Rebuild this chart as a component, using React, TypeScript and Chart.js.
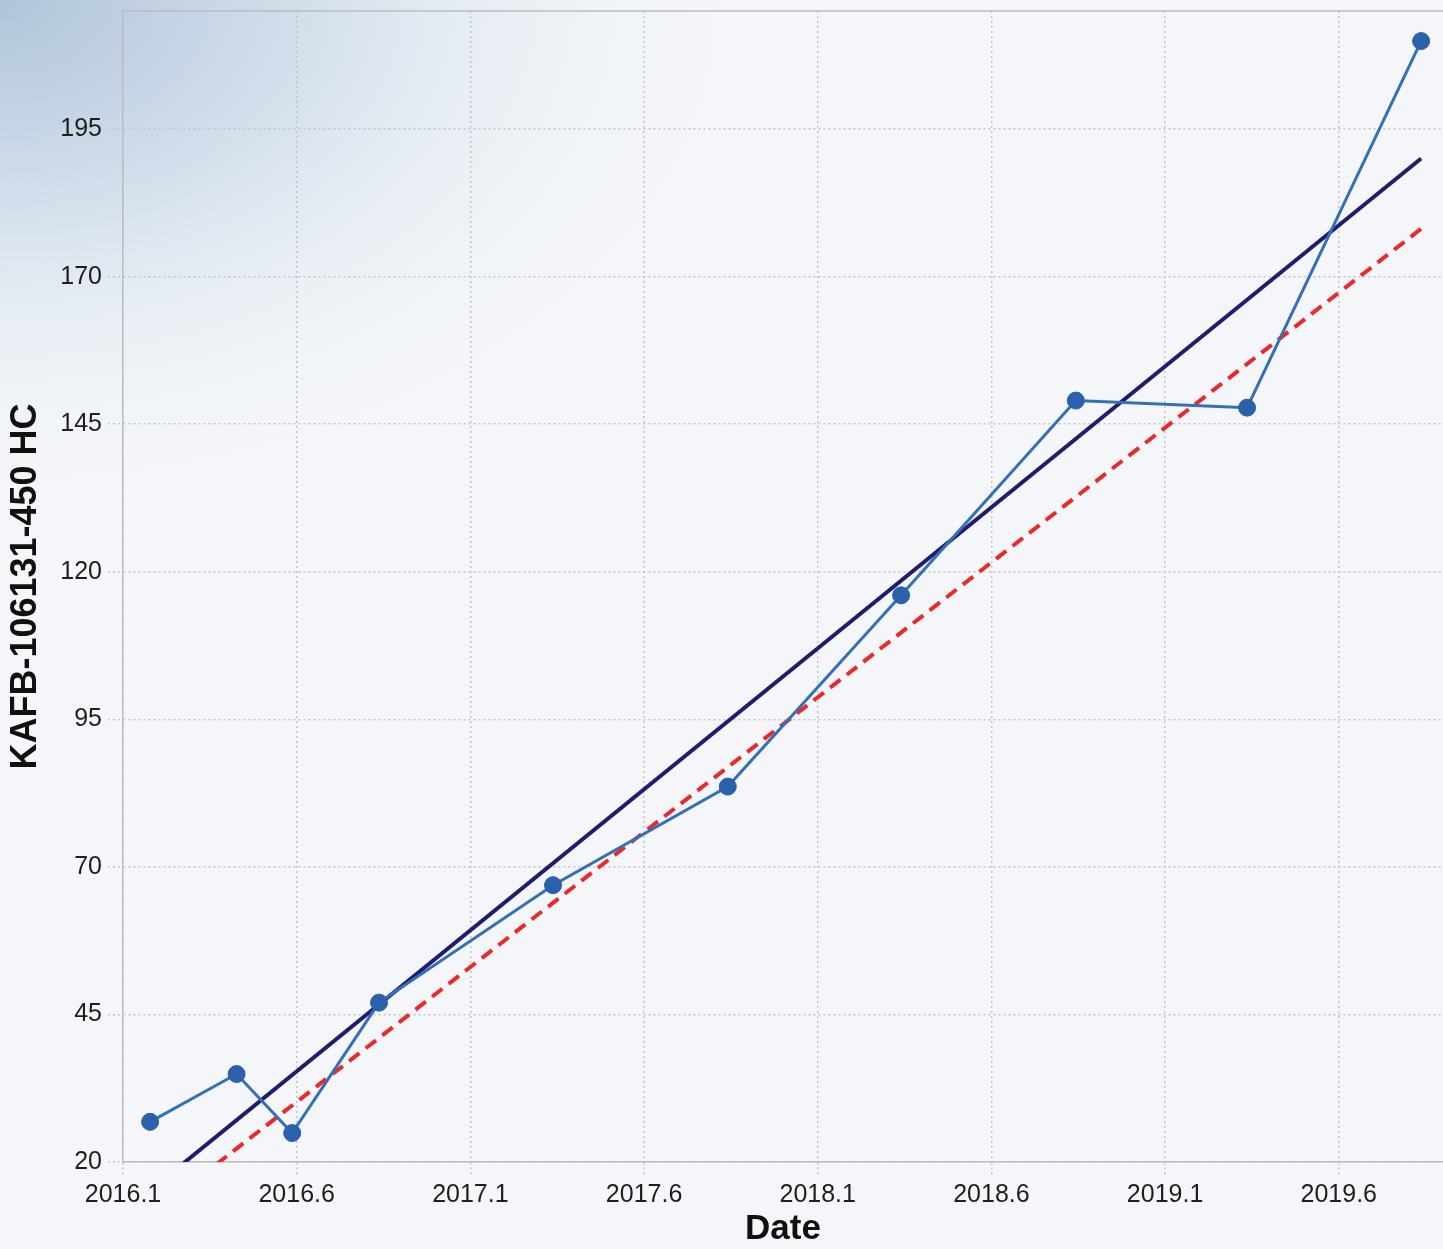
import React, { useEffect, useRef } from 'react';
import { Chart, registerables } from 'chart.js';

Chart.register(...registerables);

// ---- data ----
const dates = [2016.178, 2016.427, 2016.587, 2016.837, 2017.338, 2017.841, 2018.34, 2018.843, 2019.336, 2019.837];
const values = [26.8, 34.9, 24.9, 47.0, 66.9, 83.6, 116.0, 149.0, 147.8, 209.9];
const trendDates = [2016.178, 2019.837];
const trendSolid = [15.2, 190.0];
const trendDashed = [10.9, 178.1];
const xTicks = [2016.1, 2016.6, 2017.1, 2017.6, 2018.1, 2018.6, 2019.1, 2019.6];
const yTicks = [20, 45, 70, 95, 120, 145, 170, 195];
const yTitle = 'KAFB-106131-450 HC';
const xTitle = 'Date';

const W = 1443;
const H = 1249;
const TICK_FONT = "'Liberation Sans', Arial, sans-serif";
const TITLE_FONT = "'Liberation Sans', Arial, sans-serif";

const bgPlugin = {
  id: 'bgPlugin',
  beforeDraw(chart: any) {
    const { ctx, width, height } = chart;
    ctx.save();
    ctx.fillStyle = '#f4f6f9';
    ctx.fillRect(0, 0, width, height);
    ctx.save();
    ctx.scale(1.5, 1);
    const g = ctx.createRadialGradient(0, 0, 0, 0, 0, 520);
    g.addColorStop(0, 'rgba(176,196,218,1)');
    g.addColorStop(0.35, 'rgba(200,215,231,0.85)');
    g.addColorStop(0.7, 'rgba(230,236,243,0.5)');
    g.addColorStop(1, 'rgba(244,246,249,0)');
    ctx.fillStyle = g;
    ctx.fillRect(0, 0, width, height);
    ctx.restore();
    ctx.restore();
  },
  afterDraw(chart: any) {
    const { ctx, chartArea } = chart;
    ctx.save();
    ctx.strokeStyle = '#bcbcbc';
    ctx.lineWidth = 1.5;
    ctx.beginPath();
    ctx.moveTo(chartArea.left, chartArea.top);
    ctx.lineTo(chartArea.right, chartArea.top);
    ctx.stroke();
    ctx.restore();
  },
};

export default function App() {
  const ref = useRef<HTMLCanvasElement>(null);

  useEffect(() => {
    if (!ref.current) return;
    const chart = new Chart(ref.current, {
      type: 'line',
      data: {
        datasets: [
          {
            label: 'Trend',
            data: trendDates.map((x, i) => ({ x, y: trendSolid[i] })),
            borderColor: '#221c70',
            borderWidth: 4,
            pointRadius: 0,
            order: 3,
          },
          {
            label: 'Trend 2',
            data: trendDates.map((x, i) => ({ x, y: trendDashed[i] })),
            borderColor: '#ea2a2a',
            borderWidth: 4,
            borderDash: [13, 8],
            pointRadius: 0,
            order: 2,
          },
          {
            label: yTitle,
            data: dates.map((x, i) => ({ x, y: values[i] })),
            borderColor: '#3470b8',
            borderWidth: 3,
            pointRadius: 8.5,
            pointBackgroundColor: '#2b60ab',
            pointBorderColor: '#2b60ab',
            pointBorderWidth: 1,
            order: 1,
            clip: 12,
          },
        ],
      },
      options: {
        animation: false,
        responsive: false,
        layout: { autoPadding: false, padding: { top: 11, right: 0, left: 0, bottom: 0 } },
        plugins: {
          legend: { display: false },
          tooltip: { enabled: false },
        },
        scales: {
          x: {
            type: 'linear',
            min: 2016.1,
            max: 2019.9,
            afterBuildTicks: (scale: any) => {
              scale.ticks = xTicks.map((v) => ({ value: v }));
            },
            afterFit: (scale: any) => {
              scale.height = H - 1162;
              scale.paddingLeft = 0;
              scale.paddingRight = 0;
            },
            ticks: {
              autoSkip: false,
              maxRotation: 0,
              padding: 4,
              color: '#1e1e1e',
              font: { family: TICK_FONT, size: 25 },
              callback: (v: any) => Number(v).toFixed(1),
            },
            grid: {
              color: '#c4c4c4',
              lineWidth: 1.5,
              tickLength: 14,
              tickColor: '#c4c4c4',
              tickBorderDash: [2, 3],
            },
            border: { display: true, color: '#bcbcbc', width: 1.5, dash: [2, 3] },
            title: {
              display: true,
              text: xTitle,
              color: '#111',
              font: { family: TITLE_FONT, size: 35, weight: 'bold', lineHeight: 1 },
              padding: { top: 0, bottom: 2 },
            },
          },
          y: {
            type: 'linear',
            min: 20,
            max: 215,
            afterBuildTicks: (scale: any) => {
              scale.ticks = yTicks.map((v) => ({ value: v }));
            },
            afterFit: (scale: any) => {
              scale.width = 123;
              scale.paddingTop = 0;
              scale.paddingBottom = 0;
            },
            ticks: {
              padding: 6,
              color: '#1e1e1e',
              font: { family: TICK_FONT, size: 25 },
              callback: (v: any) => String(v),
            },
            grid: {
              color: '#c4c4c4',
              lineWidth: 1.5,
              tickLength: 15,
              tickColor: '#c4c4c4',
              tickBorderDash: [2, 3],
            },
            border: { display: true, color: '#bcbcbc', width: 1.5, dash: [2, 3] },
            title: {
              display: true,
              text: yTitle,
              color: '#111',
              font: { family: TITLE_FONT, size: 36, weight: 'bold' },
              padding: { top: 4, bottom: 0 },
            },
          },
        },
      },
      plugins: [bgPlugin],
    } as any);
    return () => chart.destroy();
  }, []);

  return (
    <div style={{ position: 'fixed', left: 0, top: 0, width: W, height: H }}>
      <canvas ref={ref} width={W} height={H} style={{ display: 'block', width: W, height: H }} />
    </div>
  );
}
